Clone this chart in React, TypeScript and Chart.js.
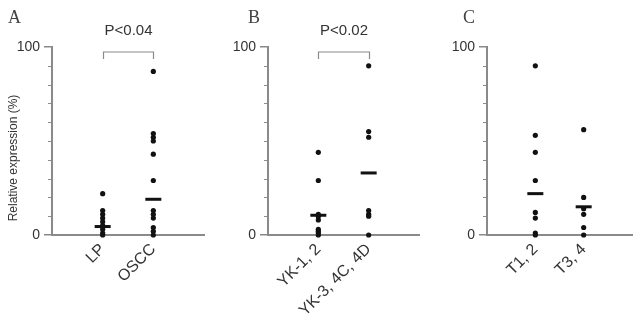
import React, { useEffect, useRef } from 'react';
import { Chart, registerables } from 'chart.js';
Chart.register(...registerables);

const panelLetters = ['A', 'B', 'C'];
const categoriesA = ['LP', 'OSCC'];
const lpValues = [22, 13, 11, 9, 7, 5, 3, 1, 0];
const osccValues = [87, 54, 52, 50, 43, 29, 13, 11, 9, 4, 2, 0];
const mediansA = [4.5, 19];
const categoriesB = ['YK-1, 2', 'YK-3, 4C, 4D'];
const yk12Values = [44, 29, 11, 10, 8, 3, 2, 1, 0];
const yk34Values = [90, 55, 52, 13, 11, 10, 0];
const mediansB = [10.5, 33];
const categoriesC = ['T1, 2', 'T3, 4'];
const t12Values = [90, 53, 44, 29, 12, 9, 1, 0];
const t34Values = [56, 20, 14, 11, 4, 0];
const mediansC = [22, 15];
const pTexts = ['P<0.04', 'P<0.02', ''];
const yMin = 0;
const yMax = 100;
const minorTickValues = [10, 20, 30, 40, 50, 60, 70, 80, 90];
const yTitle = 'Relative expression (%)';

const AXIS = '#8a8a8a';
const TEXT = '#333333';
const SANS = '"Liberation Sans", Arial, sans-serif';

type PanelProps = {
  left: number;
  width: number;
  axisWidth: number;
  rightPad: number;
  letter: string;
  letterX: number;
  categories: string[];
  groups: number[][];
  medians: number[];
  pText: string;
  title?: string;
};

function Panel(props: PanelProps) {
  const ref = useRef<HTMLCanvasElement>(null);
  useEffect(() => {
    const { categories, groups, medians, pText, title, letter, letterX, axisWidth, rightPad } = props;
    const labels = ['', categories[0], categories[1], ''];
    const pointSets = groups.map((vals, gi) => ({
      data: vals.map((v) => ({ x: categories[gi], y: v })),
      showLine: false,
      clip: false,
      pointRadius: 2.6,
      pointBackgroundColor: '#111',
      pointBorderWidth: 0,
      pointHoverRadius: 2.6,
    }));
    const medianSet = {
      data: medians.map((m, i) => ({ x: categories[i], y: m })),
      showLine: false,
      clip: false,
      pointStyle: 'line',
      pointRadius: 8,
      pointBorderWidth: 3,
      pointBorderColor: '#111',
      pointBackgroundColor: '#111',
    };
    const annot = {
      id: 'annot',
      afterDraw(chart: any) {
        const ctx = chart.ctx;
        const ys = chart.scales.y;
        const xs = chart.scales.x;
        const ax = chart.chartArea.left;
        ctx.save();
        ctx.strokeStyle = AXIS;
        ctx.lineWidth = 1;
        minorTickValues.forEach((v) => {
          const py = Math.round(ys.getPixelForValue(v)) + 0.5;
          ctx.beginPath();
          ctx.moveTo(ax - 4, py);
          ctx.lineTo(ax, py);
          ctx.stroke();
        });
        ctx.fillStyle = '#444';
        ctx.font = '18px "Liberation Serif", "Times New Roman", serif';
        ctx.textAlign = 'left';
        ctx.textBaseline = 'alphabetic';
        ctx.fillText(letter, letterX, 23);
        if (title) {
          ctx.save();
          ctx.translate(14, 158);
          ctx.rotate(-Math.PI / 2);
          ctx.font = '12px ' + SANS;
          ctx.fillStyle = TEXT;
          ctx.textAlign = 'center';
          ctx.textBaseline = 'middle';
          ctx.fillText(title, 0, 0);
          ctx.restore();
        }
        if (pText) {
          const x1 = Math.round(xs.getPixelForValue(1)) + 0.5;
          const x2 = Math.round(xs.getPixelForValue(2)) + 0.5;
          const top = chart.chartArea.top;
          ctx.strokeStyle = AXIS;
          ctx.lineWidth = 1.2;
          ctx.beginPath();
          ctx.moveTo(x1, top + 12);
          ctx.lineTo(x1, top + 5);
          ctx.lineTo(x2, top + 5);
          ctx.lineTo(x2, top + 12);
          ctx.stroke();
          ctx.fillStyle = TEXT;
          ctx.font = '15px ' + SANS;
          ctx.textAlign = 'center';
          ctx.textBaseline = 'middle';
          ctx.fillText(pText, (x1 + x2) / 2, top - 16);
        }
        ctx.restore();
      },
    };
    const chart = new Chart(ref.current as HTMLCanvasElement, {
      type: 'line',
      data: { labels, datasets: [...pointSets, medianSet] as any },
      options: {
        animation: false,
        responsive: true,
        maintainAspectRatio: false,
        layout: { padding: { top: 47, right: rightPad, left: 0, bottom: 0 } },
        plugins: { legend: { display: false }, tooltip: { enabled: false } },
        scales: {
          x: {
            type: 'category',
            offset: false,
            grid: { display: true, drawOnChartArea: false, drawTicks: false },
            border: { display: true, color: AXIS, width: 2 },
            ticks: {
              autoSkip: false,
              minRotation: 45,
              maxRotation: 45,
              padding: 5,
              color: TEXT,
              font: { family: SANS, size: 16 },
            },
            afterFit: (s: any) => {
              s.height = 93;
              s.paddingLeft = 0;
              s.paddingRight = 0;
            },
          },
          y: {
            min: yMin,
            max: yMax,
            ticks: { stepSize: 100, color: TEXT, padding: 4, font: { family: SANS, size: 14 } },
            grid: { display: true, drawOnChartArea: false, tickLength: 8, color: AXIS, lineWidth: 1.5 },
            border: { display: true, color: AXIS, width: 2 },
            afterFit: (s: any) => {
              s.width = axisWidth;
            },
          },
        },
      },
      plugins: [annot],
    } as any);
    return () => chart.destroy();
  }, []);
  return (
    <div style={{ position: 'absolute', left: props.left, top: 0, width: props.width, height: 328 }}>
      <canvas ref={ref} />
    </div>
  );
}

export default function App() {
  return (
    <div style={{ position: 'fixed', left: 0, top: 0, width: 643, height: 328, background: '#fff' }}>
      <Panel left={0} width={215} axisWidth={52} rightPad={8} letter={panelLetters[0]} letterX={8}
        categories={categoriesA} groups={[lpValues, osccValues]} medians={mediansA} pText={pTexts[0]} title={yTitle} />
      <Panel left={215} width={215} axisWidth={53} rightPad={7} letter={panelLetters[1]} letterX={33}
        categories={categoriesB} groups={[yk12Values, yk34Values]} medians={mediansB} pText={pTexts[1]} />
      <Panel left={430} width={213} axisWidth={57} rightPad={8} letter={panelLetters[2]} letterX={33}
        categories={categoriesC} groups={[t12Values, t34Values]} medians={mediansC} pText={pTexts[2]} />
    </div>
  );
}
